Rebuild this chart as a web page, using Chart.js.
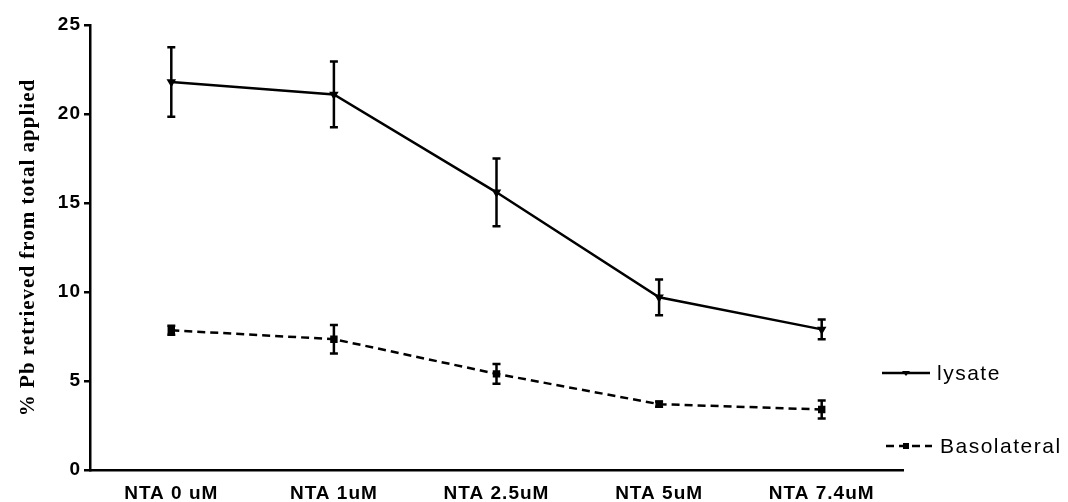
<!DOCTYPE html>
<html>
<head>
<meta charset="utf-8">
<script src="https://cdn.jsdelivr.net/npm/chart.js@4"></script>
<style>
  body { margin: 0; background: #fff; }
  #wrap { width: 1068px; height: 502px; }
</style>
</head>
<body>
<div id="wrap"><canvas id="chart" width="1068" height="502"></canvas></div>
<script>
const categories = ["NTA 0 uM", "NTA 1uM", "NTA 2.5uM", "NTA 5uM", "NTA 7.4uM"];
const lysate = [21.8, 21.1, 15.6, 9.7, 7.9];
const lysateErr = [1.95, 1.85, 1.9, 1.0, 0.55];
const basolateral = [7.85, 7.35, 5.4, 3.7, 3.4];
const basolateralErr = [0.25, 0.8, 0.55, 0.15, 0.5];
const yMin = 0;
const yMax = 25;
const yStep = 5;

// wider letter spacing, the original text looks spread out
const spacing = {
  id: "spacing",
  beforeDraw(chart) {
    chart.ctx.letterSpacing = "1px";
  }
};

// error bars drawn through the y scale
const errorBars = {
  id: "errorBars",
  afterDatasetsDraw(chart) {
    const ctx = chart.ctx;
    const y = chart.scales.y;
    const errs = [lysateErr, basolateralErr];
    chart.data.datasets.forEach((ds, i) => {
      const meta = chart.getDatasetMeta(i);
      ctx.save();
      ctx.strokeStyle = "#000";
      ctx.lineWidth = 2.5;
      ctx.setLineDash([]);
      meta.data.forEach((pt, j) => {
        const top = y.getPixelForValue(ds.data[j] + errs[i][j]);
        const bot = y.getPixelForValue(ds.data[j] - errs[i][j]);
        ctx.beginPath();
        ctx.moveTo(pt.x, top);
        ctx.lineTo(pt.x, bot);
        ctx.moveTo(pt.x - 4, top);
        ctx.lineTo(pt.x + 4, top);
        ctx.moveTo(pt.x - 4, bot);
        ctx.lineTo(pt.x + 4, bot);
        ctx.stroke();
      });
      ctx.restore();
    });
  }
};

// legend on the right, like the original
const sideLegend = {
  id: "sideLegend",
  afterDraw(chart) {
    const ctx = chart.ctx;
    ctx.save();
    ctx.strokeStyle = "#000";
    ctx.fillStyle = "#000";
    ctx.lineWidth = 2.5;

    ctx.beginPath();
    ctx.moveTo(882, 373);
    ctx.lineTo(930, 373);
    ctx.stroke();
    ctx.beginPath();
    ctx.moveTo(902, 371);
    ctx.lineTo(910, 371);
    ctx.lineTo(906, 376);
    ctx.closePath();
    ctx.fill();

    ctx.setLineDash([8, 5]);
    ctx.beginPath();
    ctx.moveTo(886, 446);
    ctx.lineTo(932, 446);
    ctx.stroke();
    ctx.setLineDash([]);
    ctx.fillRect(903, 443, 6, 6);

    ctx.font = "21px 'Liberation Sans', Arial, sans-serif";
    ctx.letterSpacing = "1.5px";
    ctx.textBaseline = "middle";
    ctx.fillText("lysate", 937, 374);
    ctx.fillText("Basolateral", 940, 447);
    ctx.restore();
  }
};

new Chart(document.getElementById("chart"), {
  type: "line",
  data: {
    labels: categories,
    datasets: [
      {
        label: "lysate",
        data: lysate,
        borderColor: "#000",
        backgroundColor: "#000",
        borderWidth: 2.5,
        pointStyle: "triangle",
        rotation: 180,
        pointRadius: 3,
        tension: 0
      },
      {
        label: "Basolateral",
        data: basolateral,
        borderColor: "#000",
        backgroundColor: "#000",
        borderWidth: 2.5,
        borderDash: [8, 5],
        pointStyle: "rect",
        pointRadius: 3.5,
        tension: 0
      }
    ]
  },
  options: {
    responsive: false,
    devicePixelRatio: 1,
    animation: false,
    layout: { padding: { top: 25, right: 165, left: 0, bottom: 0 } },
    plugins: {
      legend: { display: false },
      tooltip: { enabled: false }
    },
    scales: {
      x: {
        offset: true,
        grid: { display: false, drawTicks: false },
        border: { display: true, color: "#000", width: 2.5 },
        ticks: {
          color: "#000",
          padding: 12,
          maxRotation: 0,
          autoSkip: false,
          font: { family: "'Liberation Sans', Arial, sans-serif", size: 19, weight: "bold" }
        },
        afterFit(scale) { scale.height = 32; }
      },
      y: {
        min: yMin,
        max: yMax,
        grid: { display: true, drawOnChartArea: false, drawTicks: true, tickLength: 6, color: "#000", lineWidth: 2.5 },
        border: { display: true, color: "#000", width: 2.5 },
        ticks: {
          stepSize: yStep,
          color: "#000",
          padding: 3,
          font: { family: "'Liberation Sans', Arial, sans-serif", size: 19, weight: "bold" }
        },
        title: {
          display: true,
          text: "% Pb retrieved from total applied",
          color: "#000",
          padding: { top: 16, bottom: 0 },
          font: { family: "'Liberation Serif', 'Times New Roman', serif", size: 21, weight: "bold" }
        },
        afterFit(scale) { scale.width = 90; }
      }
    }
  },
  plugins: [spacing, errorBars, sideLegend]
});
</script>
</body>
</html>
